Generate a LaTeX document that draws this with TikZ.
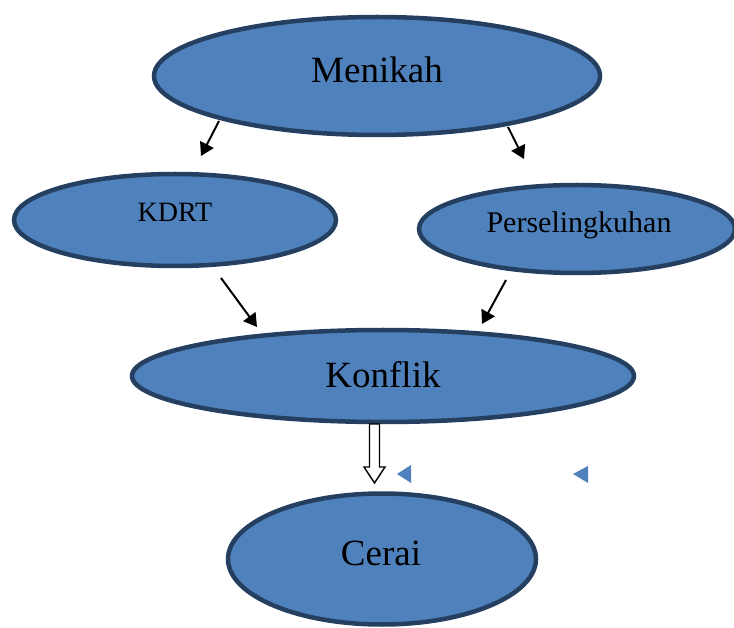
\documentclass[tikz,border=0pt]{standalone}
\usepackage{fontspec}
\setmainfont{Liberation Serif}
\usetikzlibrary{shapes.geometric,shapes.arrows,arrows.meta}
\definecolor{efill}{HTML}{4F81BD}
\definecolor{eline}{HTML}{243F60}
\tikzset{
  oval/.style={ellipse, draw=eline, fill=efill, line width=4.5pt, inner sep=0pt},
  lbl/.style={inner sep=0pt, text=black},
  conn/.style={-{Triangle[length=13pt,width=15pt]}, line width=2pt, black},
  tri/.style={fill=efill, draw=none}
}
\begin{document}
\begin{tikzpicture}[x=1pt,y=-1pt]
\useasboundingbox (0,0) rectangle (734,628);
% ellipses
\node[oval, minimum width=446pt, minimum height=118pt] (men) at (377,76) {};
\node[oval, minimum width=322pt, minimum height=92pt] (kdrt) at (175,220) {};
\node[oval, minimum width=316pt, minimum height=88pt] (pers) at (577,229) {};
\node[oval, minimum width=502pt, minimum height=92pt] (konf) at (383,376) {};
\node[oval, minimum width=308pt, minimum height=131pt] (cerai) at (382,559) {};
% labels
\node[lbl, font=\fontsize{37}{40}\selectfont] (menT) at (377,70) {Menikah};
\node[lbl, font=\fontsize{28}{30}\selectfont] (kdrtT) at (175,212) {KDRT};
\node[lbl, font=\fontsize{30}{32}\selectfont] (persT) at (579,225) {Perselingkuhan};
\node[lbl, font=\fontsize{37}{40}\selectfont] (konfT) at (383,375) {Konflik};
\node[lbl, font=\fontsize{37}{40}\selectfont] (ceraiT) at (381,553) {Cerai};
% connector endpoints
\coordinate (a1) at (219,121); \coordinate (a2) at (201,156);
\coordinate (b1) at (508,127); \coordinate (b2) at (524,159);
\coordinate (c1) at (221,278); \coordinate (c2) at (257,327);
\coordinate (d1) at (506,280); \coordinate (d2) at (482,324);
\draw[conn] (a1) -- (a2);
\draw[conn] (b1) -- (b2);
\draw[conn] (c1) -- (c2);
\draw[conn] (d1) -- (d2);
% hollow arrow
\draw[line width=1.4pt, fill=white, line join=miter]
  (369.5,424) -- (379.5,424) -- (379.5,467) -- (385,467) -- (374.5,483)
  -- (364,467) -- (369.5,467) -- cycle;
% small triangles
\fill[tri] (397,474) -- (411,465) -- (411,483) -- cycle;
\fill[tri] (573,474) -- (588,466) -- (588,483) -- cycle;
\end{tikzpicture}
\end{document}
